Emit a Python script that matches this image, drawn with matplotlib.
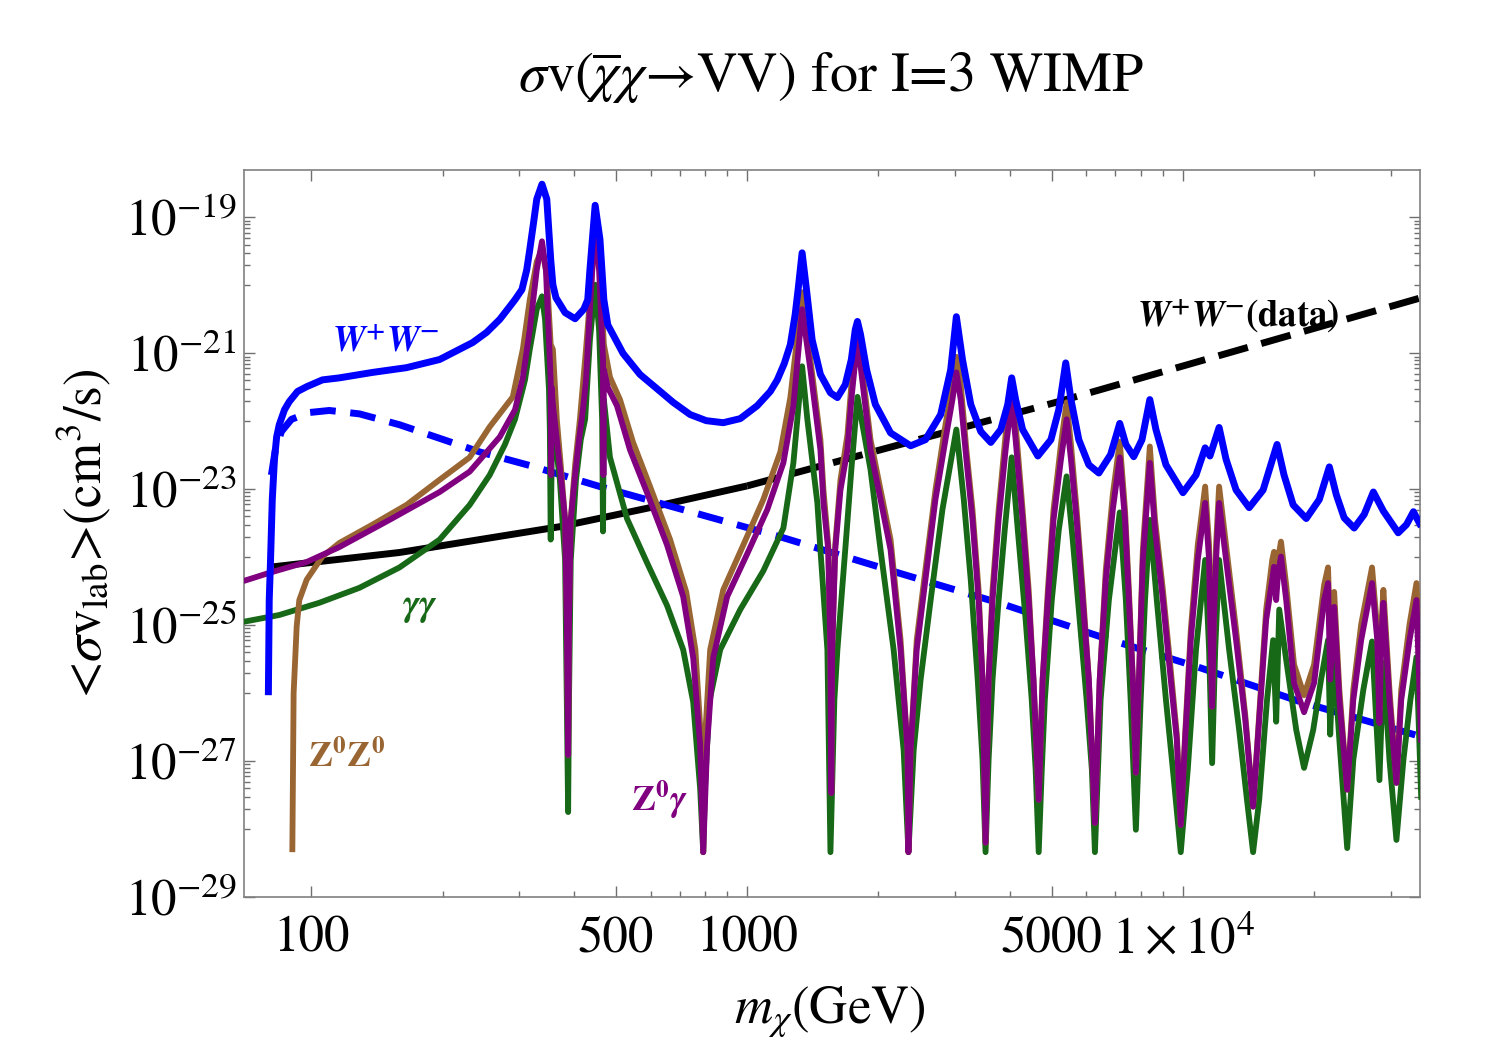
import matplotlib
matplotlib.use('Agg')
import matplotlib.pyplot as plt
import numpy as np
from matplotlib.ticker import FixedLocator, FixedFormatter, NullFormatter

plt.rcParams['font.family'] = 'STIXGeneral'
plt.rcParams['mathtext.fontset'] = 'stix'

# values: (log10 m_chi [GeV], log10 <sigma v> [cm^3/s])
ww_pts = [(1.901, -26.03), (1.903, -24.63), (1.906, -24.04), (1.910, -23.15), (1.915, -22.56),
          (1.920, -22.23), (1.926, -22.05), (1.938, -21.83), (1.949, -21.71), (1.968, -21.56),
          (1.989, -21.49), (2.025, -21.39), (2.064, -21.36), (2.140, -21.28), (2.218, -21.21),
          (2.294, -21.09), (2.370, -20.84), (2.402, -20.69), (2.432, -20.50), (2.455, -20.31),
          (2.467, -20.21), (2.483, -20.06), (2.494, -19.77), (2.501, -19.47), (2.510, -19.06),
          (2.517, -18.73), (2.529, -18.51), (2.540, -18.73), (2.549, -19.62), (2.554, -19.99),
          (2.561, -20.18), (2.582, -20.40), (2.605, -20.49), (2.625, -20.35), (2.634, -20.21),
          (2.639, -19.77), (2.651, -18.82), (2.662, -19.32), (2.671, -20.21), (2.680, -20.58),
          (2.715, -21.00), (2.754, -21.31), (2.793, -21.52), (2.830, -21.72), (2.869, -21.90),
          (2.906, -21.99), (2.945, -22.02), (2.984, -21.96), (3.023, -21.77), (3.053, -21.56),
          (3.069, -21.39), (3.085, -21.15), (3.099, -20.87), (3.110, -20.43), (3.117, -20.05),
          (3.126, -19.52), (3.136, -20.06), (3.149, -20.80), (3.168, -21.31), (3.191, -21.58),
          (3.207, -21.65), (3.225, -21.46), (3.239, -21.09), (3.248, -20.65), (3.253, -20.53),
          (3.260, -20.72), (3.274, -21.24), (3.294, -21.75), (3.329, -22.17), (3.375, -22.36),
          (3.409, -22.27), (3.444, -21.90), (3.467, -21.24), (3.480, -20.46), (3.494, -21.09),
          (3.513, -21.75), (3.536, -22.15), (3.559, -22.31), (3.582, -22.12), (3.598, -21.75),
          (3.607, -21.36), (3.616, -21.68), (3.632, -22.12), (3.667, -22.51), (3.697, -22.27),
          (3.715, -21.83), (3.731, -21.14), (3.743, -21.68), (3.761, -22.27), (3.784, -22.64),
          (3.807, -22.76), (3.834, -22.49), (3.855, -22.03), (3.869, -22.34), (3.887, -22.52),
          (3.906, -22.27), (3.924, -21.68), (3.938, -22.12), (3.961, -22.64), (4.000, -23.05),
          (4.030, -22.79), (4.051, -22.39), (4.062, -22.51), (4.083, -22.09), (4.099, -22.56),
          (4.122, -23.01), (4.152, -23.27), (4.184, -23.01), (4.216, -22.34), (4.232, -22.79),
          (4.253, -23.23), (4.283, -23.43), (4.313, -23.15), (4.336, -22.67), (4.352, -23.08),
          (4.370, -23.42), (4.393, -23.57), (4.416, -23.37), (4.437, -23.04), (4.460, -23.32),
          (4.494, -23.64), (4.513, -23.52), (4.529, -23.33), (4.547, -23.55)]

ww_dashed_pts = [(1.908, -22.79), (1.917, -22.42), (1.931, -22.15), (1.954, -21.97), (1.995, -21.87),
                 (2.041, -21.84), (2.110, -21.89), (2.202, -22.05), (2.294, -22.25), (2.386, -22.45),
                 (2.501, -22.65), (2.662, -22.96), (2.892, -23.37), (3.076, -23.70), (3.352, -24.24),
                 (3.582, -24.68), (3.811, -25.17), (4.041, -25.63), (4.271, -26.13), (4.547, -26.64)]

data_pts = [(1.913, -24.14), (1.995, -24.08), (2.202, -23.93), (2.386, -23.74),
            (2.570, -23.55), (2.777, -23.27), (3.000, -22.95)]
data_extrap_pts = [(3.000, -22.95), (3.720, -21.70), (4.547, -20.18)]

zz_pts = [(1.956, -28.34), (1.959, -26.00), (1.966, -25.02), (1.972, -24.63), (1.989, -24.33),
          (2.025, -23.99), (2.064, -23.79), (2.140, -23.52), (2.218, -23.23), (2.294, -22.86),
          (2.363, -22.53), (2.409, -22.08), (2.462, -21.64), (2.485, -20.94), (2.501, -20.21),
          (2.517, -19.65), (2.529, -19.47), (2.540, -19.84), (2.549, -20.87), (2.554, -20.94),
          (2.563, -21.97), (2.572, -22.64), (2.582, -23.45), (2.586, -24.92), (2.589, -26.91),
          (2.591, -24.92), (2.595, -23.45), (2.605, -22.64), (2.616, -21.97), (2.630, -20.94),
          (2.639, -20.21), (2.651, -19.18), (2.662, -19.77), (2.671, -20.87), (2.685, -21.35),
          (2.708, -21.68), (2.738, -22.31), (2.777, -22.96), (2.823, -23.74), (2.860, -24.51),
          (2.881, -25.36), (2.894, -26.69), (2.899, -28.34), (2.903, -26.69), (2.915, -25.36),
          (2.945, -24.48), (2.991, -23.82), (3.037, -23.15), (3.076, -22.45), (3.099, -21.65),
          (3.113, -20.87), (3.126, -20.10), (3.145, -21.09), (3.168, -22.27), (3.175, -23.01),
          (3.186, -23.82), (3.191, -25.36), (3.193, -27.47), (3.195, -25.36), (3.202, -23.82),
          (3.214, -22.86), (3.230, -22.20), (3.239, -21.46), (3.253, -20.55), (3.264, -21.24),
          (3.283, -22.27), (3.306, -23.01), (3.329, -23.74), (3.352, -25.22), (3.368, -26.84),
          (3.370, -28.34), (3.375, -26.84), (3.389, -25.22), (3.409, -24.18), (3.432, -23.01),
          (3.455, -22.05), (3.471, -21.46), (3.480, -21.05), (3.490, -21.46), (3.503, -22.42),
          (3.517, -23.30), (3.531, -24.48), (3.540, -25.80), (3.547, -28.20), (3.554, -25.80),
          (3.563, -24.48), (3.577, -23.30), (3.593, -22.20), (3.607, -21.43), (3.616, -22.05),
          (3.632, -23.30), (3.646, -24.48), (3.657, -25.80), (3.669, -27.57), (3.678, -25.80),
          (3.690, -24.48), (3.703, -23.30), (3.720, -22.34), (3.733, -21.72), (3.743, -22.34),
          (3.756, -23.30), (3.770, -24.48), (3.784, -25.80), (3.798, -27.91), (3.809, -25.80),
          (3.823, -24.18), (3.839, -23.08), (3.855, -22.30), (3.867, -23.30), (3.876, -24.48),
          (3.885, -25.80), (3.892, -27.17), (3.899, -25.80), (3.908, -23.89), (3.924, -22.37),
          (3.936, -23.45), (3.954, -24.48), (3.972, -25.66), (3.986, -26.61), (3.995, -27.94),
          (4.005, -26.61), (4.018, -25.07), (4.034, -23.82), (4.051, -22.96), (4.060, -23.82),
          (4.064, -25.22), (4.067, -26.20), (4.071, -24.77), (4.076, -23.82), (4.083, -22.96),
          (4.099, -23.82), (4.122, -25.07), (4.143, -26.32), (4.161, -27.67), (4.175, -26.32),
          (4.191, -24.77), (4.205, -24.04), (4.209, -23.92), (4.214, -24.48), (4.218, -24.04),
          (4.225, -23.77), (4.237, -24.41), (4.255, -25.58), (4.278, -26.03), (4.301, -25.58),
          (4.324, -24.41), (4.333, -24.15), (4.338, -25.22), (4.347, -24.51), (4.359, -25.95),
          (4.377, -27.42), (4.391, -25.95), (4.409, -24.99), (4.434, -24.15), (4.446, -25.07),
          (4.451, -26.25), (4.455, -25.07), (4.460, -24.48), (4.474, -25.95), (4.490, -27.32),
          (4.501, -25.95), (4.520, -24.99), (4.536, -24.38), (4.547, -26.54)]

zg_pts = [(1.844, -24.35), (1.903, -24.23), (1.989, -24.07), (2.064, -23.85), (2.179, -23.45),
          (2.294, -23.04), (2.363, -22.74), (2.432, -22.23), (2.467, -21.83), (2.485, -21.36),
          (2.501, -20.65), (2.517, -19.77), (2.529, -19.35), (2.538, -19.77), (2.545, -20.80),
          (2.549, -21.39), (2.550, -22.79), (2.551, -21.50), (2.554, -21.75), (2.563, -22.27),
          (2.572, -22.79), (2.582, -23.45), (2.586, -24.92), (2.589, -26.91), (2.591, -24.92),
          (2.595, -23.45), (2.605, -22.79), (2.614, -22.27), (2.623, -21.83), (2.630, -21.39),
          (2.639, -20.35), (2.651, -19.07), (2.660, -19.77), (2.667, -20.80), (2.669, -21.09),
          (2.670, -22.79), (2.671, -21.24), (2.680, -21.50), (2.701, -21.77), (2.731, -22.42),
          (2.770, -23.05), (2.816, -23.82), (2.853, -24.58), (2.876, -25.48), (2.892, -26.76),
          (2.899, -28.34), (2.908, -26.76), (2.922, -25.48), (2.954, -24.58), (3.000, -23.95),
          (3.046, -23.30), (3.083, -22.61), (3.106, -21.77), (3.117, -21.00), (3.126, -20.35),
          (3.145, -21.24), (3.168, -22.42), (3.175, -23.20), (3.186, -23.89), (3.191, -25.36),
          (3.193, -27.47), (3.195, -25.36), (3.202, -23.89), (3.214, -23.01), (3.230, -22.42),
          (3.239, -21.68), (3.253, -20.80), (3.264, -21.39), (3.283, -22.42), (3.306, -23.15),
          (3.329, -23.89), (3.352, -25.36), (3.368, -26.84), (3.370, -28.34), (3.375, -26.84),
          (3.389, -25.36), (3.409, -24.33), (3.432, -23.15), (3.455, -22.27), (3.471, -21.68),
          (3.480, -21.28), (3.490, -21.68), (3.503, -22.56), (3.517, -23.45), (3.531, -24.63),
          (3.540, -25.80), (3.547, -28.20), (3.554, -25.80), (3.563, -24.63), (3.577, -23.45),
          (3.593, -22.42), (3.607, -21.68), (3.616, -22.27), (3.632, -23.45), (3.646, -24.63),
          (3.657, -25.80), (3.669, -27.57), (3.678, -25.80), (3.690, -24.63), (3.703, -23.45),
          (3.720, -22.56), (3.733, -21.97), (3.743, -22.56), (3.756, -23.45), (3.770, -24.63),
          (3.784, -25.80), (3.798, -27.91), (3.809, -25.80), (3.823, -24.33), (3.839, -23.30),
          (3.855, -22.53), (3.867, -23.45), (3.876, -24.63), (3.885, -25.80), (3.892, -27.17),
          (3.899, -25.80), (3.908, -24.04), (3.924, -22.61), (3.936, -23.60), (3.954, -24.63),
          (3.972, -25.80), (3.986, -26.69), (3.995, -27.94), (4.005, -26.69), (4.018, -25.22),
          (4.034, -24.04), (4.051, -23.20), (4.060, -24.04), (4.064, -25.36), (4.067, -26.20),
          (4.071, -24.92), (4.076, -24.04), (4.083, -23.20), (4.099, -24.04), (4.122, -25.22),
          (4.143, -26.39), (4.161, -27.67), (4.175, -26.39), (4.191, -24.92), (4.205, -24.33),
          (4.209, -24.14), (4.214, -24.63), (4.218, -24.26), (4.225, -23.99), (4.237, -24.63),
          (4.255, -25.85), (4.278, -26.28), (4.301, -25.85), (4.324, -24.63), (4.333, -24.38),
          (4.338, -25.80), (4.347, -24.73), (4.359, -26.10), (4.377, -27.42), (4.391, -26.10),
          (4.409, -25.22), (4.434, -24.38), (4.446, -25.22), (4.451, -26.44), (4.455, -25.22),
          (4.460, -24.67), (4.474, -26.10), (4.490, -27.32), (4.501, -26.10), (4.520, -25.22),
          (4.536, -24.63), (4.547, -26.73)]

gg_pts = [(1.844, -24.95), (1.926, -24.85), (2.018, -24.67), (2.110, -24.45), (2.202, -24.15),
          (2.294, -23.74), (2.363, -23.23), (2.409, -22.79), (2.444, -22.34), (2.467, -21.97),
          (2.490, -21.39), (2.501, -20.94), (2.517, -20.35), (2.529, -20.16), (2.536, -20.50),
          (2.545, -21.53), (2.547, -22.12), (2.549, -23.74), (2.552, -22.12), (2.559, -22.27),
          (2.570, -22.86), (2.582, -24.04), (2.586, -26.10), (2.589, -27.75), (2.591, -26.10),
          (2.595, -24.04), (2.607, -22.86), (2.618, -22.27), (2.628, -21.97), (2.639, -20.80),
          (2.651, -19.99), (2.660, -20.65), (2.667, -21.97), (2.669, -23.62), (2.671, -21.68),
          (2.685, -22.53), (2.724, -23.43), (2.770, -24.08), (2.816, -24.71), (2.853, -25.36),
          (2.876, -26.13), (2.892, -27.41), (2.899, -28.34), (2.903, -27.41), (2.913, -26.13),
          (2.938, -25.36), (2.984, -24.77), (3.037, -24.20), (3.083, -23.57), (3.106, -22.61),
          (3.115, -21.97), (3.126, -21.19), (3.138, -21.97), (3.161, -23.20), (3.168, -23.89),
          (3.184, -25.36), (3.191, -28.34), (3.200, -26.10), (3.207, -25.36), (3.225, -23.89),
          (3.239, -22.71), (3.253, -21.64), (3.283, -22.71), (3.306, -23.89), (3.336, -25.36),
          (3.359, -26.84), (3.370, -28.34), (3.382, -26.84), (3.398, -25.80), (3.421, -24.63),
          (3.448, -23.30), (3.480, -22.12), (3.497, -23.15), (3.513, -24.33), (3.529, -25.80),
          (3.540, -26.98), (3.547, -28.34), (3.554, -26.98), (3.563, -25.80), (3.577, -24.63),
          (3.591, -23.60), (3.607, -22.53), (3.621, -23.60), (3.639, -24.92), (3.653, -26.10),
          (3.662, -27.13), (3.669, -28.34), (3.676, -27.13), (3.683, -26.10), (3.699, -24.63),
          (3.715, -23.60), (3.733, -22.81), (3.747, -23.74), (3.763, -24.92), (3.779, -26.10),
          (3.791, -27.13), (3.798, -28.34), (3.805, -27.13), (3.811, -26.10), (3.830, -24.63),
          (3.855, -23.34), (3.869, -24.63), (3.880, -26.10), (3.892, -28.01), (3.903, -26.10),
          (3.913, -24.63), (3.924, -23.45), (3.940, -24.63), (3.961, -26.10), (3.977, -27.13),
          (3.995, -28.34), (4.011, -27.13), (4.030, -25.36), (4.051, -24.04), (4.060, -25.36),
          (4.067, -27.03), (4.074, -25.36), (4.083, -24.04), (4.106, -25.36), (4.129, -26.54),
          (4.147, -27.57), (4.161, -28.34), (4.175, -27.57), (4.193, -26.10), (4.207, -25.22),
          (4.214, -26.42), (4.221, -24.77), (4.237, -25.51), (4.260, -26.54), (4.278, -27.10),
          (4.299, -26.54), (4.317, -25.80), (4.333, -25.22), (4.338, -26.61), (4.345, -25.36),
          (4.359, -26.69), (4.377, -28.28), (4.391, -26.98), (4.414, -25.95), (4.434, -25.24),
          (4.451, -27.28), (4.460, -25.55), (4.474, -26.98), (4.490, -28.16), (4.506, -26.98),
          (4.522, -26.10), (4.536, -25.47), (4.547, -27.57)]

x_major = [100, 500, 1000, 5000, 10000]
x_labels = ['100', '500', '1000', '5000', r'$1\times10^{4}$']
x_minor = [200, 300, 400, 600, 700, 800, 900, 2000, 3000, 4000,
           6000, 7000, 8000, 9000, 20000, 30000]
y_major_exp = [-19, -21, -23, -25, -27, -29]


def curve(pts):
    a = np.array(pts)
    return 10 ** a[:, 0], 10 ** a[:, 1]


fig = plt.figure(figsize=(14.93, 10.61), dpi=100)
ax = fig.add_axes([244 / 1493, 164 / 1061, 1176 / 1493, 727 / 1061])

blue = '#0000ff'
brown = '#996633'
purple = '#800080'
green = '#176817'

x, y = curve(data_pts)
ax.plot(x, y, color='black', lw=5.0, solid_capstyle='butt', zorder=2)
x, y = curve(data_extrap_pts)
ax.plot(x, y, color='black', lw=5.0, ls=(0, (4.4, 2.0)), zorder=2)
x, y = curve(ww_dashed_pts)
ax.plot(x, y, color=blue, lw=5.0, ls=(0, (3.7, 2.1)), zorder=2.1)
x, y = curve(gg_pts)
ax.plot(x, y, color=green, lw=4.2, solid_capstyle='butt', zorder=3)
x, y = curve(zz_pts)
ax.plot(x, y, color=brown, lw=4.2, solid_capstyle='butt', zorder=3.1)
x, y = curve(zg_pts)
ax.plot(x, y, color=purple, lw=4.2, solid_capstyle='butt', zorder=3.2)
x, y = curve(ww_pts)
ax.plot(x, y, color=blue, lw=5.0, solid_capstyle='butt', zorder=4)

ax.set_xscale('log')
ax.set_yscale('log')
ax.set_xlim(70, 35000)
ax.set_ylim(1e-29, 5e-19)

ax.xaxis.set_major_locator(FixedLocator(x_major))
ax.xaxis.set_major_formatter(FixedFormatter(x_labels))
ax.xaxis.set_minor_locator(FixedLocator(x_minor))
ax.xaxis.set_minor_formatter(NullFormatter())

y_major = [10.0 ** e for e in y_major_exp]
y_minor = [m * 10.0 ** (e - 1) for e in y_major_exp[:-1] for m in range(1, 10)]
ax.yaxis.set_major_locator(FixedLocator(y_major))
ax.yaxis.set_major_formatter(FixedFormatter([r'$10^{%d}$' % e for e in y_major_exp]))
ax.yaxis.set_minor_locator(FixedLocator(y_minor))
ax.yaxis.set_minor_formatter(NullFormatter())

ax.tick_params(which='both', direction='in', top=True, right=True,
               color='#707070', width=1.0, labelsize=36.5)
ax.tick_params(which='major', length=8)
ax.tick_params(which='minor', length=4)
ax.tick_params(axis='x', pad=14)
ax.tick_params(axis='y', pad=5)
for s in ax.spines.values():
    s.set_color('#808080')
    s.set_linewidth(1.2)

# curve labels
ax.text(10 ** 2.170, 10 ** -20.84, r'$\mathbfit{W}^{\mathbf{+}}\mathbfit{W}^{\mathbf{-}}$',
        color=blue, fontsize=26.5, ha='center', va='center', zorder=5)
ax.text(10 ** 4.126, 10 ** -20.44, r'$\mathbfit{W}^{\mathbf{+}}\mathbfit{W}^{\mathbf{-}}$(data)',
        color='black', fontsize=26.5, fontweight='bold', ha='center', va='center', zorder=5)
ax.text(10 ** 2.248, 10 ** -24.74, r'$\mathbfit{\gamma\gamma}$',
        color=green, fontsize=27, ha='center', va='center', zorder=5)
ax.text(10 ** 2.080, 10 ** -26.95, r'$\mathbf{Z}^{\mathbf{0}}\mathbf{Z}^{\mathbf{0}}$',
        color=brown, fontsize=26, ha='center', va='center', zorder=5)
ax.text(10 ** 2.800, 10 ** -27.57, r'$\mathbf{Z}^{\mathbf{0}}\mathbfit{\gamma}$',
        color=purple, fontsize=26, ha='center', va='center', zorder=5)

fig.text(831 / 1493, 1 - 77 / 1061, r'$\sigma$v($\overline{\chi}\chi$→VV) for I=3 WIMP',
         fontsize=40.5, ha='center', va='center')
fig.text(830 / 1493, 1 - 1012 / 1061, r'$m_{\chi}$(GeV)', fontsize=38, ha='center', va='center')
fig.text(84 / 1493, 1 - 533 / 1061, r'<$\sigma$v$_{\rm lab}$>(cm$^{3}$/s)', fontsize=38,
         rotation=90, ha='center', va='center')

fig.savefig('out.png', dpi=100)
